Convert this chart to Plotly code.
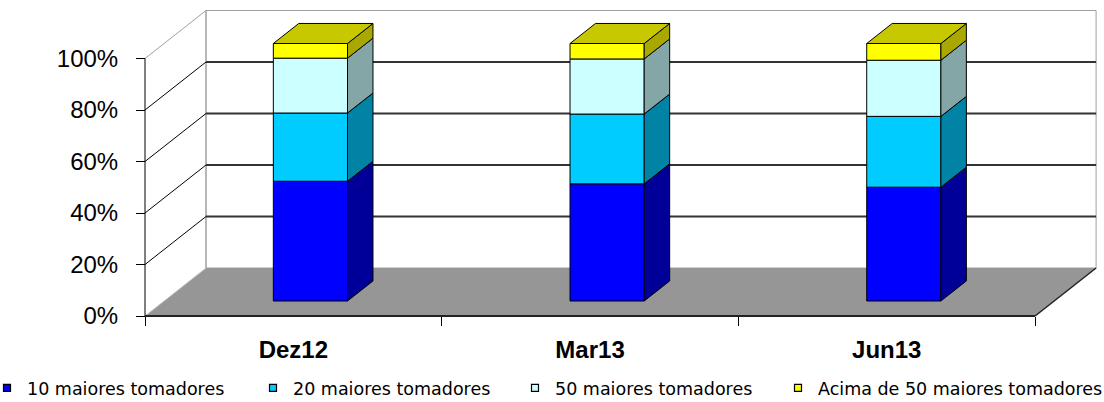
import plotly.graph_objects as go

# ---------------- data ----------------
categories = ["Dez12", "Mar13", "Jun13"]
series_names = ["10 maiores tomadores", "20 maiores tomadores",
                "50 maiores tomadores", "Acima de 50 maiores tomadores"]
top10 = [46.5, 45.5, 44.2]
top20 = [26.5, 27.1, 27.5]
top50 = [21.3, 21.4, 21.8]
above50 = [5.7, 6.0, 6.5]
y_tick_values = [0, 20, 40, 60, 80, 100]
y_tick_labels = ["0%", "20%", "40%", "60%", "80%", "100%"]

# ---------------- style / geometry ----------------
front_colors = ["#0000FF", "#00CCFF", "#CCFFFF", "#FFFF00"]
side_colors = ["#000099", "#0083A5", "#84A6A6", "#A8A800"]
top_color = "#C8C800"
LEGEND_FONT = "DejaVu Sans"
AXIS_FONT = "Liberation Sans, Arial, sans-serif"

W, H = 1104, 402
PX_X = 296.7      # pixels per category unit
PX_Y = 257.5      # pixels per 100%
X0_PX = 145.0     # pixel of x = -0.5 (front left corner)
Y0_PX = 316.0     # pixel of 0% at the front plane
x_min = -0.5 - X0_PX / PX_X
x_max = x_min + W / PX_X
y_min = -(H - Y0_PX) / PX_Y
y_max = Y0_PX / PX_Y
DX = 61.0 / PX_X          # oblique depth shift (x) for full depth
DY = 48.0 / PX_Y          # oblique depth shift (y) for full depth
D0, D1 = 0.3125, 0.73     # bar front / back depth
XSHIFT = -2.0 / PX_X      # small horizontal nudge of bars
BW = 0.25                 # bar width
LEGEND_LEFT_PX = [-13, 253, 515, 778]
LEGEND_Y_PX = 388

series = [top10, top20, top50, above50]
n = len(categories)
xpos = list(range(n))

fig = go.Figure()

# front faces as real bars
bottoms = [0.0] * n
bases_all = []
for s, vals in enumerate(series):
    fr = [v / 100 for v in vals]
    bases_all.append(list(bottoms))
    fig.add_trace(go.Bar(
        x=[x + D0 * DX + XSHIFT for x in xpos],
        y=fr,
        base=[b + D0 * DY for b in bottoms],
        width=BW,
        marker=dict(color=front_colors[s], line=dict(color="black", width=1)),
        name=series_names[s], showlegend=False, hoverinfo="skip"))
    bottoms = [b + f for b, f in zip(bottoms, fr)]

# side faces
for s, vals in enumerate(series):
    xs, ys = [], []
    for i in range(n):
        b = bases_all[s][i]
        t = b + vals[i] / 100
        xr = xpos[i] + BW / 2 + XSHIFT
        xs += [xr + D0 * DX, xr + D1 * DX, xr + D1 * DX, xr + D0 * DX, xr + D0 * DX, None]
        ys += [b + D0 * DY, b + D1 * DY, t + D1 * DY, t + D0 * DY, b + D0 * DY, None]
    fig.add_trace(go.Scatter(x=xs, y=ys, mode="lines", fill="toself",
                             fillcolor=side_colors[s],
                             line=dict(color="black", width=1),
                             showlegend=False, hoverinfo="skip"))

# top faces
xs, ys = [], []
for i in range(n):
    t = bottoms[i]
    xl, xr = xpos[i] - BW / 2 + XSHIFT, xpos[i] + BW / 2 + XSHIFT
    xs += [xl + D0 * DX, xr + D0 * DX, xr + D1 * DX, xl + D1 * DX, xl + D0 * DX, None]
    ys += [t + D0 * DY, t + D0 * DY, t + D1 * DY, t + D1 * DY, t + D0 * DY, None]
fig.add_trace(go.Scatter(x=xs, y=ys, mode="lines", fill="toself",
                         fillcolor=top_color, line=dict(color="black", width=1),
                         showlegend=False, hoverinfo="skip"))

# legend entries (one legend per entry for exact placement)
legend_layouts = {}
for s in range(4):
    key = "legend" if s == 0 else f"legend{s + 1}"
    fig.add_trace(go.Scatter(x=[None], y=[None], mode="markers",
                             marker=dict(symbol="square", size=7, color=front_colors[s],
                                         line=dict(color="black", width=1.2)),
                             name=series_names[s], showlegend=True, legend=key))
    legend_layouts[key] = dict(orientation="h", x=LEGEND_LEFT_PX[s] / W, xanchor="left",
                               y=1 - LEGEND_Y_PX / H, yanchor="middle",
                               font=dict(family=LEGEND_FONT, size=17.5, color="black"),
                               bgcolor="rgba(0,0,0,0)", borderwidth=0)

# ---------------- walls, floor, grid (shapes below traces) ----------------
shapes = []
L, R = -0.5, n - 0.5
def seg(x0, y0, x1, y1, color, width):
    shapes.append(dict(type="line", x0=x0, y0=y0, x1=x1, y1=y1, layer="below",
                       line=dict(color=color, width=width)))

# back wall
shapes.append(dict(type="rect", x0=L + DX, y0=DY, x1=R + DX, y1=1 + DY, layer="below",
                   fillcolor="white", line=dict(color="#A0A0A0", width=1)))
# floor
shapes.append(dict(type="path",
                   path=f"M {L},0 L {L+DX},{DY} L {R+DX},{DY} L {R},0 Z",
                   fillcolor="#969696", line=dict(width=0), layer="below"))
# left wall edges
seg(L, 1, L + DX, 1 + DY, "#A0A0A0", 1)
seg(L, 0, L + DX, DY, "#C8C8C8", 1)
seg(L + DX, DY, L + DX, 1 + DY, "#A0A0A0", 1)
# grid lines
for v in y_tick_values[1:-1]:
    f = v / 100
    seg(L + DX, f + DY, R + DX, f + DY, "#333333", 2)
    seg(L, f, L + DX, f + DY, "black", 1)
# front edges
seg(L, 0, L, 1, "black", 1)
seg(L, 0, R, 0, "#222222", 2)
seg(R, 0, R + DX, DY, "#222222", 1.5)

fig.update_layout(
    width=W, height=H,
    margin=dict(l=0, r=0, t=0, b=0, autoexpand=False),
    paper_bgcolor="white", plot_bgcolor="white",
    barmode="overlay",
    shapes=shapes,
    font=dict(family=AXIS_FONT, color="black"),
    showlegend=True,
    xaxis=dict(range=[x_min, x_max], anchor="free", position=1 - Y0_PX / H,
               tickmode="array", tickvals=xpos,
               ticktext=[f"<b>{c}</b>" for c in categories], ticks="",
               minor=dict(tickmode="array", tickvals=[L + k for k in range(n + 1)],
                          ticks="outside", ticklen=9, tickcolor="black", tickwidth=1),
               tickfont=dict(family=AXIS_FONT, size=24, color="black"),
               ticklabelstandoff=17,
               showgrid=False, zeroline=False, showline=False, automargin=False,
               fixedrange=True),
    yaxis=dict(range=[y_min, y_max], anchor="free", position=X0_PX / W,
               tickmode="array", tickvals=[v / 100 for v in y_tick_values],
               ticktext=y_tick_labels, ticks="outside", ticklen=9,
               tickcolor="black", tickwidth=1,
               tickfont=dict(family=AXIS_FONT, size=24, color="black"),
               ticklabelstandoff=13,
               showgrid=False, zeroline=False, showline=False, automargin=False,
               fixedrange=True),
    **legend_layouts,
)

fig.write_html("out.html")
